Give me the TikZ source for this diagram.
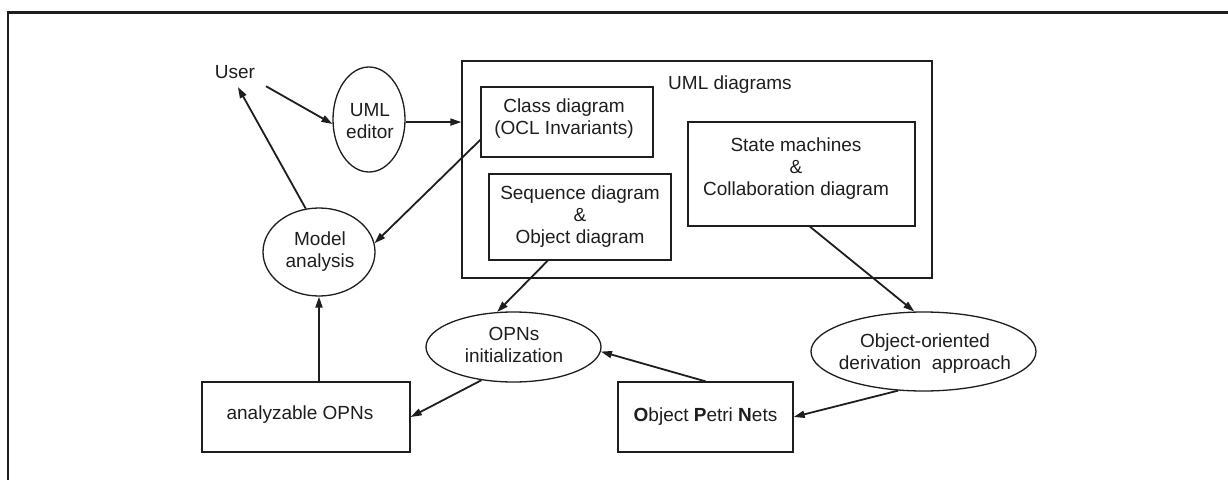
\documentclass[tikz,border=0pt]{standalone}
\usepackage{fontspec}
\setmainfont{Liberation Sans}
\usetikzlibrary{shapes.geometric,arrows.meta,calc}
\definecolor{ink}{RGB}{30,30,30}
\begin{document}
\begin{tikzpicture}[x=1pt,y=-1pt,
  every node/.style={font=\fontsize{19}{22}\selectfont, text=ink, align=center},
  box/.style={draw=ink, line width=1.3pt, rectangle, inner sep=0pt},
  oval/.style={draw=ink, line width=1.3pt, ellipse, inner sep=0pt},
  conn/.style={draw=ink, line width=1.8pt, -{Triangle[length=11pt,width=7pt]}},
  txt/.style={inner sep=3pt}
]
\clip (0,0) rectangle (1228,479);
\fill[white] (0,0) rectangle (1228,479);
\draw[ink, line width=2.4pt] (8,490) -- (8,12.5) -- (1240,12.5);

% nodes
\node[txt] (user) at (235,72) {User};
\node[oval, minimum width=72pt, minimum height=105pt] (editor) at (369,119.5) {};
\node[txt] (edtext) at (370,121) {UML\\editor};

\node[box, minimum width=470pt, minimum height=217pt] (uml) at (697,169.5) {};
\node[txt] (umllabel) at (730,85) {UML diagrams};

\node[box, minimum width=172pt, minimum height=70pt] (class) at (567,122) {};
\node[txt] (classtext) at (564,119) {Class diagram\\(OCL Invariants)};

\node[box, minimum width=182pt, minimum height=86pt] (seq) at (580,217) {Sequence diagram\\\&\\Object diagram};

\node[box, minimum width=227pt, minimum height=104pt] (state) at (801.5,174) {};
\node[txt] (statetext) at (796,168.5) {State machines\\\&\\Collaboration diagram};

\node[oval, minimum width=112pt, minimum height=88pt] (model) at (319,252) {};
\node[txt] (modeltext) at (320,252) {Model\\analysis};

\node[oval, minimum width=175pt, minimum height=70pt] (init) at (513.5,347) {};
\node[txt] (inittext) at (514,344.5) {OPNs\\initialization};

\node[oval, minimum width=225pt, minimum height=79pt] (oo) at (923.5,351.5) {};
\node[txt] (ootext) at (925,354) {Object-oriented\\derivation~ approach};

\node[box, minimum width=208pt, minimum height=70pt] (anl) at (306,417) {};
\node[txt] (anltext) at (300,415) {analyzable OPNs};

\node[box, minimum width=175pt, minimum height=70pt] (opn) at (705.5,417) {\textbf{O}bject \textbf{P}etri \textbf{N}ets};

% connectors
\draw[conn, shorten <=9pt] (user.south east) -- (editor.187);
\draw[conn, shorten >=6pt] (model.107) -- (user.south);
\draw[conn] (editor.-4) -- (editor.-4 -| uml.west);
\draw[conn] ($(class.south west)!0.25!(class.north west)$) -- (model.9);
\draw[conn] (model.south |- anl.north) -- (model.south);
\draw[conn] ($(seq.south west)!0.324!(seq.south east)$) -- (init.115);
\draw[conn] (init.226) -- (anl.east);
\draw[conn] (opn.north) -- (init.-3);
\draw[conn] ($(state.south west)!0.537!(state.south east)$) -- (oo.103.5);
\draw[conn] (oo.237) -- (opn.east);
\end{tikzpicture}
\end{document}
